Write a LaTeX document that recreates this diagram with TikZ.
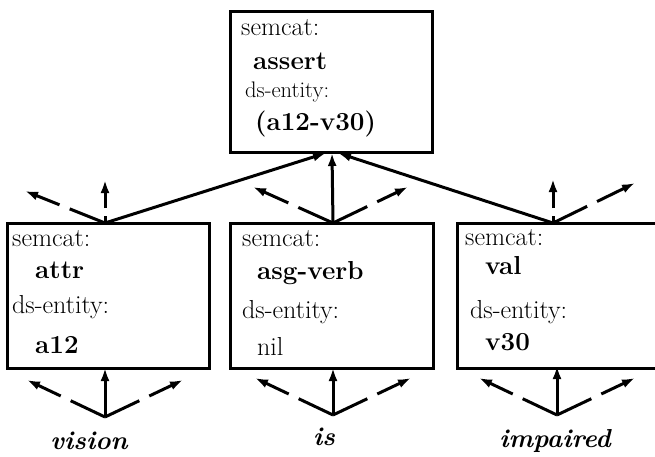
\documentclass[tikz,border=0pt]{standalone}
\usetikzlibrary{arrows.meta}
\begin{document}
\begin{tikzpicture}[x=1pt,y=-1pt,
  fbox/.style={draw, line width=3pt, inner sep=0pt},
  lbl/.style={anchor=base west, inner sep=0pt, font=\fontsize{26}{30}\selectfont},
  smalllbl/.style={anchor=base west, inner sep=0pt, font=\fontsize{22.5}{26}\selectfont},
  valtxt/.style={anchor=base west, inner sep=0pt, font=\fontsize{26}{30}\selectfont\bfseries},
  word/.style={anchor=base, inner sep=0pt, font=\fontsize{26}{30}\selectfont\bfseries\itshape},
  solidarrow/.style={line width=3pt, -{Latex[length=13pt,width=9pt]}},
  dashdiag/.style={line width=3pt, dash pattern=on 38pt off 11pt on 80pt, -{Latex[length=13pt,width=9pt]}},
  dashvert/.style={line width=3pt, dash pattern=on 7pt off 8pt on 80pt, -{Latex[length=13pt,width=9pt]}}]
\useasboundingbox (0,0) rectangle (655,457);
\clip (0,0) rectangle (655,457);

% boxes
\node[fbox, minimum width=202pt, minimum height=141pt] (top) at (331,82.5) {};
\node[fbox, minimum width=202pt, minimum height=145pt] (lbox) at (108,295.5) {};
\node[fbox, minimum width=203pt, minimum height=145pt] (mbox) at (331.5,295.5) {};
\node[fbox, minimum width=286pt, minimum height=145pt] (rbox) at (600,295.5) {};

% top box text
\node[lbl] (t1) at (241,36) {semcat:};
\node[valtxt] (t2) at (253,70) {assert};
\node[smalllbl] (t3) at (245,98) {ds-entity:};
\node[valtxt] (t4) at (255,131) {(a12-v30)};

% left box text
\node[lbl] (l1) at (12,246) {semcat:};
\node[valtxt] (l2) at (35,278) {attr};
\node[lbl] (l3) at (12,313) {ds-entity:};
\node[valtxt] (l4) at (35,353) {a12};

% middle box text
\node[lbl] (m1) at (242,246) {semcat:};
\node[valtxt] (m2) at (257,279) {asg-verb};
\node[lbl] (m3) at (242,318) {ds-entity:};
\node[lbl] (m4) at (257,355) {nil};

% right box text
\node[lbl] (r1) at (465,245) {semcat:};
\node[valtxt] (r2) at (485,274) {val};
\node[lbl] (r3) at (470,318) {ds-entity:};
\node[valtxt] (r4) at (485,350) {v30};

% words
\node[word] (w1) at (89,449) {vision};
\node[word] (w2) at (324,445) {is};
\node[word] (w3) at (555,447) {impaired};

% junction coordinates
\coordinate (lj) at (105,223);
\coordinate (mj) at (333,223);
\coordinate (rj) at (553,223);
\coordinate (tl) at (326,153);
\coordinate (tm) at (332,153);
\coordinate (tr) at (338,153);
\coordinate (lbj) at (105,417);
\coordinate (mbj) at (333,415);
\coordinate (rbj) at (557,415);
\coordinate (lbt) at (105,368);
\coordinate (mbt) at (333,368);
\coordinate (rbt) at (557,366);

% tips above boxes
\coordinate (la1) at (25,191);
\coordinate (la2) at (105,180);
\coordinate (ma1) at (253,187);
\coordinate (ma3) at (408,187);
\coordinate (ra2) at (553,179);
\coordinate (ra3) at (635,183);

% tips below boxes
\coordinate (lb1) at (27,380);
\coordinate (lb3) at (183,380);
\coordinate (mb1) at (255,378);
\coordinate (mb3) at (411,378);
\coordinate (rb1) at (479,378);
\coordinate (rb3) at (635,378);

% solid connectors to the top box
\draw[solidarrow] (lj) -- (tl);
\draw[solidarrow] (mj) -- (tm);
\draw[solidarrow] (rj) -- (tr);

% dashed arrows above lower boxes
\draw[dashdiag] (lj) -- (la1);
\draw[dashvert] (lj) -- (la2);
\draw[dashdiag] (mj) -- (ma1);
\draw[dashdiag] (mj) -- (ma3);
\draw[dashvert] (rj) -- (ra2);
\draw[dashdiag] (rj) -- (ra3);

% arrows below lower boxes
\draw[solidarrow] (lbj) -- (lbt);
\draw[dashdiag] (lbj) -- (lb1);
\draw[dashdiag] (lbj) -- (lb3);
\draw[solidarrow] (mbj) -- (mbt);
\draw[dashdiag] (mbj) -- (mb1);
\draw[dashdiag] (mbj) -- (mb3);
\draw[solidarrow] (rbj) -- (rbt);
\draw[dashdiag] (rbj) -- (rb1);
\draw[dashdiag] (rbj) -- (rb3);
\end{tikzpicture}
\end{document}
